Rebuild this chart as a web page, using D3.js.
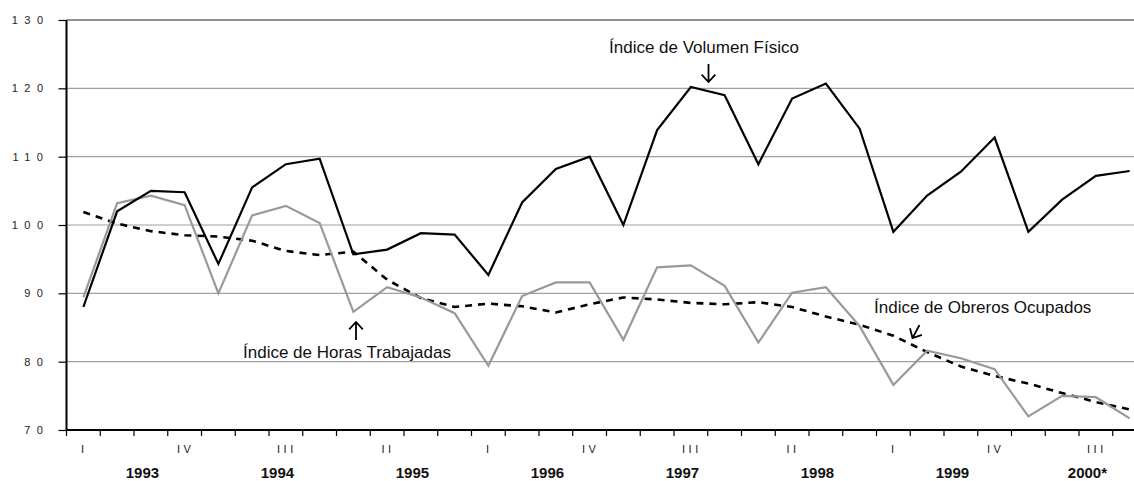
<!DOCTYPE html>
<html>
<head>
<meta charset="utf-8">
<script src="https://cdn.jsdelivr.net/npm/d3@7"></script>
<style>
  body { margin: 0; background: #fff; }
  svg { display: block; font-family: "Liberation Sans", Arial, sans-serif; }
</style>
</head>
<body>
<svg id="chart" width="1134" height="481"></svg>
<script>
// quarterly indices, 1993-I .. 2000-IV
const quarters = ["I", "II", "III", "IV"];
const years = ["1993", "1994", "1995", "1996", "1997", "1998", "1999", "2000*"];
const yTicks = [70, 80, 90, 100, 110, 120, 130];

const volumen = [88.0, 102.0, 105.0, 104.8, 94.3, 105.5, 108.9, 109.7, 95.7, 96.4, 98.8, 98.6,
  92.7, 103.3, 108.2, 110.0, 100.0, 113.9, 120.2, 119.0, 108.9, 118.5, 120.7, 114.1,
  99.0, 104.3, 107.8, 112.8, 99.0, 103.7, 107.2, 107.9];
const horas = [89.4, 103.2, 104.3, 102.9, 90.0, 101.4, 102.8, 100.3, 87.3, 90.9, 89.4, 87.1,
  79.4, 89.6, 91.6, 91.6, 83.2, 93.8, 94.1, 91.1, 82.8, 90.1, 90.9, 85.2,
  76.6, 81.6, 80.5, 78.9, 72.0, 75.0, 74.8, 71.7];
const obreros = [101.9, 100.2, 99.1, 98.5, 98.3, 97.7, 96.2, 95.6, 96.1, 92.0, 89.3, 88.0,
  88.5, 88.1, 87.2, 88.4, 89.4, 89.1, 88.6, 88.4, 88.7, 88.0, 86.6, 85.4,
  83.8, 81.4, 79.3, 77.9, 76.8, 75.4, 74.1, 73.0];

const svg = d3.select("#chart");
const plotLeft = 66.5, plotTop = 20, plotBottom = 430;
const n = volumen.length;

// plot area runs past the right edge of the picture (cropped like the original)
const x = d3.scaleBand().domain(d3.range(n)).range([plotLeft, plotLeft + 33.75 * n]).padding(0);
const y = d3.scaleLinear().domain([70, 130]).range([plotBottom, plotTop]);
const cx = i => x(i) + x.bandwidth() / 2;

// gridlines
svg.append("g")
  .selectAll("line")
  .data(yTicks.filter(d => d > 70))
  .join("line")
  .attr("x1", plotLeft).attr("x2", 1134)
  .attr("y1", d => y(d)).attr("y2", d => y(d))
  .attr("stroke", d => d === 130 ? "#6e6e6e" : "#a0a0a0")
  .attr("stroke-width", d => d === 130 ? 1.6 : 1.2);

// y axis
const yAxis = svg.append("g").attr("transform", `translate(${plotLeft},0)`)
  .call(d3.axisLeft(y).tickValues(yTicks).tickSize(8).tickFormat(""));
yAxis.select(".domain").remove();
yAxis.selectAll(".tick line").attr("stroke", "#000").attr("stroke-width", 1.2);
svg.append("line")
  .attr("x1", plotLeft).attr("x2", plotLeft).attr("y1", plotTop).attr("y2", plotBottom)
  .attr("stroke", "#000").attr("stroke-width", 2);

svg.append("g")
  .selectAll("text")
  .data(yTicks)
  .join("text")
  .attr("x", 49.5)
  .attr("y", d => y(d) + 4)
  .attr("text-anchor", "end")
  .attr("font-size", 11)
  .attr("letter-spacing", "6.5px")
  .attr("fill", "#222")
  .text(d => d);

// x axis with ticks on quarter boundaries
svg.append("g")
  .selectAll("line")
  .data(d3.range(n + 1))
  .join("line")
  .attr("x1", i => i < n ? x(i) : x(n - 1) + x.bandwidth())
  .attr("x2", i => i < n ? x(i) : x(n - 1) + x.bandwidth())
  .attr("y1", plotBottom).attr("y2", plotBottom + 6)
  .attr("stroke", "#000").attr("stroke-width", 1.2);
svg.append("line")
  .attr("x1", plotLeft).attr("x2", 1134).attr("y1", plotBottom).attr("y2", plotBottom)
  .attr("stroke", "#000").attr("stroke-width", 2);

// quarter labels every third quarter
svg.append("g")
  .selectAll("text")
  .data(d3.range(0, n, 3))
  .join("text")
  .attr("x", i => cx(i) + 1)
  .attr("y", 453)
  .attr("text-anchor", "middle")
  .attr("font-size", 11)
  .attr("letter-spacing", "3.5px")
  .attr("fill", "#222")
  .text(i => quarters[i % 4]);

// year labels
svg.append("g")
  .selectAll("text")
  .data(years)
  .join("text")
  .attr("x", (d, k) => x(4 * k + 2) + 0.25 * x.bandwidth())
  .attr("y", 478)
  .attr("text-anchor", "middle")
  .attr("font-size", 15)
  .attr("font-weight", "bold")
  .attr("fill", "#111")
  .text(d => d);

// series
const line = d3.line().x((d, i) => cx(i)).y(d => y(d));

svg.append("path").datum(obreros)
  .attr("d", line)
  .attr("fill", "none")
  .attr("stroke", "#000")
  .attr("stroke-width", 2.6)
  .attr("stroke-dasharray", "7,6");

svg.append("path").datum(horas)
  .attr("d", line)
  .attr("fill", "none")
  .attr("stroke", "#999")
  .attr("stroke-width", 2.2)
  .attr("stroke-linejoin", "miter");

svg.append("path").datum(volumen)
  .attr("d", line)
  .attr("fill", "none")
  .attr("stroke", "#000")
  .attr("stroke-width", 2.2)
  .attr("stroke-linejoin", "miter");

// annotations
function arrow(x1, y1, x2, y2) {
  const a = Math.atan2(y2 - y1, x2 - x1), h = 10, s = 0.75;
  const p = d3.path();
  p.moveTo(x1, y1); p.lineTo(x2, y2);
  p.moveTo(x2 - h * Math.cos(a - s), y2 - h * Math.sin(a - s));
  p.lineTo(x2, y2);
  p.lineTo(x2 - h * Math.cos(a + s), y2 - h * Math.sin(a + s));
  svg.append("path").attr("d", p.toString())
    .attr("fill", "none").attr("stroke", "#000").attr("stroke-width", 1.8);
}

const labels = [
  { text: "Índice de Volumen Físico", x: 609, y: 53 },
  { text: "Índice de Horas Trabajadas", x: 243, y: 358 },
  { text: "Índice de Obreros Ocupados", x: 874, y: 313 }
];
svg.append("g")
  .selectAll("text")
  .data(labels)
  .join("text")
  .attr("x", d => d.x).attr("y", d => d.y)
  .attr("font-size", 17)
  .attr("fill", "#111")
  .text(d => d.text);

arrow(708.5, 64, 708.5, 82);
arrow(356, 340, 356, 322);
arrow(919.5, 325, 912.5, 338);
</script>
</body>
</html>
